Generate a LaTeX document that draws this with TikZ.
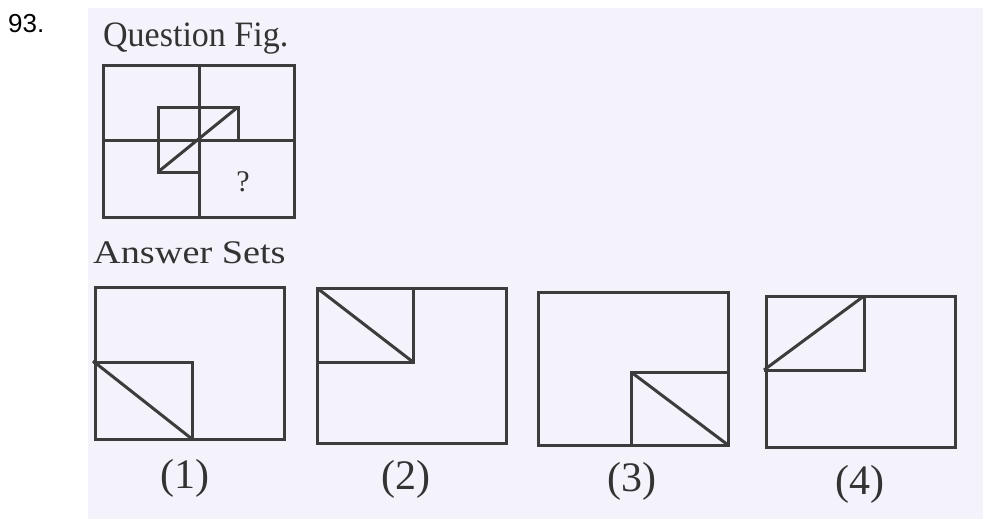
\documentclass[tikz,border=0pt]{standalone}
\usepackage{fontspec}
\setmainfont{Liberation Serif}
\newfontfamily\numfont{Liberation Sans}
\definecolor{scan}{HTML}{F4F2FA}
\definecolor{ink}{HTML}{3C3C3C}
\definecolor{txt}{HTML}{333333}
\tikzset{
  fig/.style={draw=ink, line width=3pt, line join=miter},
  lbl/.style={inner sep=0pt, text=txt, font=\fontsize{42}{42}\selectfont, anchor=base},
}
\begin{document}
\begin{tikzpicture}[x=1pt,y=-1pt]
\useasboundingbox (0,0) rectangle (983,519);
\fill[white] (0,0) rectangle (983,519);
\fill[scan] (88,8) rectangle (983,519);
\node[inner sep=0pt, anchor=base west, font=\numfont\fontsize{26}{26}\selectfont] (num) at (8,33) {93.};
\node[inner sep=0pt, anchor=base west, text=txt, font=\fontsize{34}{34}\selectfont] (qtitle) at (103,47) {\scalebox{1}[1.05]{Question Fig.}};
% question figure
\draw[fig] (103,66) rectangle (294,217);
\draw[fig] (199,66) -- (199,217);
\draw[fig] (103,140) -- (294,140);
\draw[fig] (158,140) -- (158,107) -- (238,107) -- (238,140);
\draw[fig] (158,140) -- (158,172) -- (199,172);
\draw[fig] (158,172) -- (238,107);
\node[lbl, font=\fontsize{30}{30}\selectfont] (q) at (243,191) {?};
% answer sets
\node[inner sep=0pt, anchor=base west, text=txt, font=\fontsize{33}{33}\selectfont] (atitle) at (93,263) {\scalebox{1.16}[1]{Answer Sets}};
% (1)
\draw[fig] (95,287) rectangle (284,439);
\draw[fig] (93,362) -- (192,362) -- (192,439);
\draw[fig] (93,361) -- (192,439);
\node[lbl] (l1) at (185,488) {(1)};
% (2)
\draw[fig] (317,288) rectangle (506,443);
\draw[fig] (317,362) -- (413,362) -- (413,288);
\draw[fig] (317,288) -- (413,362);
\node[lbl] (l2) at (406,489) {(2)};
% (3)
\draw[fig] (538,292) rectangle (728,445);
\draw[fig] (631,445) -- (631,372) -- (728,372);
\draw[fig] (631,372) -- (728,445);
\node[lbl] (l3) at (632,491) {(3)};
% (4)
\draw[fig] (766,296) rectangle (955,447);
\draw[fig] (764,370) -- (864,370) -- (864,296);
\draw[fig] (764,370) -- (864,296);
\node[lbl] (l4) at (860,494) {(4)};
\end{tikzpicture}
\end{document}
